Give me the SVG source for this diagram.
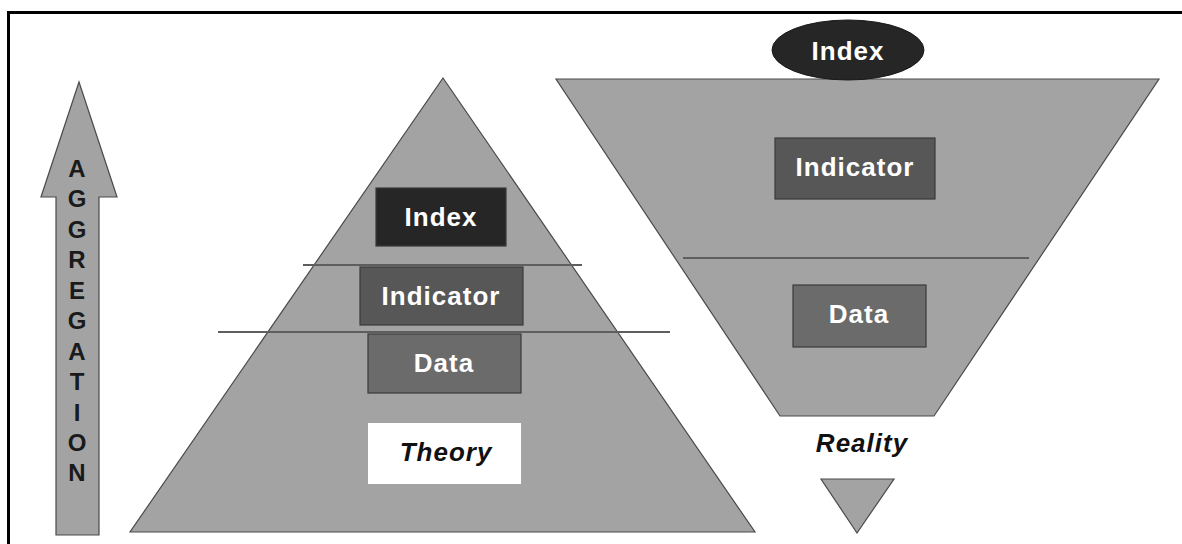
<svg xmlns="http://www.w3.org/2000/svg" width="1182" height="544" viewBox="0 0 1182 544">
<style>
.shape{fill:#a3a3a3;stroke:#4a4a4a;stroke-width:1.2}
.sep{stroke:#5e5e5e;stroke-width:2}
.box{stroke:#3a3a3a;stroke-width:1.2}
.lbl{font-family:"Liberation Sans",Arial,sans-serif;font-weight:bold;font-size:26px;fill:#ffffff;text-anchor:middle;letter-spacing:1px}
.it{font-family:"Liberation Sans",Arial,sans-serif;font-weight:bold;font-style:italic;font-size:26px;fill:#111;text-anchor:middle;letter-spacing:1px}
.agg{font-family:"Liberation Sans",Arial,sans-serif;font-weight:bold;font-size:24px;fill:#1a1a1a;text-anchor:middle}
</style>
<rect width="1182" height="544" fill="#ffffff"/>
<path d="M8.5,544 V12.5 H1182" fill="none" stroke="#000" stroke-width="3"/>
<g id="aggregation-arrow">
<polygon class="shape" points="79,82 117,197 99,197 99,535 56,535 56,197 41,197"/>
<g class="agg">
<text x="77" y="177">A</text><text x="77" y="207">G</text><text x="77" y="238">G</text><text x="77" y="268">R</text><text x="77" y="299">E</text><text x="77" y="329">G</text><text x="77" y="360">A</text><text x="77" y="390">T</text><text x="77" y="421">I</text><text x="77" y="451">O</text><text x="77" y="481">N</text>
</g>
</g>
<g id="theory-pyramid">
<polygon class="shape" points="443,78 755,532 130,532"/>
</g>
<g id="reality-funnel">
<polygon class="shape" points="556,79 1159,79 934,416 780,416"/>
</g>
<g id="reality-small-triangle">
<polygon class="shape" points="821,479 894,479 857,533"/>
</g>
<g id="connectors">
<line class="sep" x1="303" y1="265" x2="582" y2="265"/>
<line class="sep" x1="218" y1="332" x2="670" y2="332"/>
<line class="sep" x1="683" y1="258" x2="1029" y2="258"/>
</g>
<g id="left-index">
<rect class="box" x="376" y="188" width="130" height="58" fill="#262626"/>
<text class="lbl" x="441" y="226">Index</text>
</g>
<g id="left-indicator">
<rect class="box" x="360" y="267" width="163" height="58" fill="#575757"/>
<text class="lbl" x="441" y="305">Indicator</text>
</g>
<g id="left-data">
<rect class="box" x="368" y="334" width="153" height="59" fill="#6b6b6b"/>
<text class="lbl" x="444" y="372">Data</text>
</g>
<g id="theory">
<rect x="368" y="423" width="153" height="61" fill="#ffffff"/>
<text class="it" x="446" y="461">Theory</text>
</g>
<g id="right-index">
<ellipse cx="848" cy="50" rx="76" ry="30" fill="#262626" stroke="#1a1a1a" stroke-width="1"/>
<text class="lbl" x="848" y="60">Index</text>
</g>
<g id="right-indicator">
<rect class="box" x="775" y="138" width="160" height="61" fill="#575757"/>
<text class="lbl" x="855" y="176">Indicator</text>
</g>
<g id="right-data">
<rect class="box" x="793" y="285" width="133" height="62" fill="#6b6b6b"/>
<text class="lbl" x="859" y="323">Data</text>
</g>
<g id="reality">
<text class="it" x="862" y="452">Reality</text>
</g>
</svg>
